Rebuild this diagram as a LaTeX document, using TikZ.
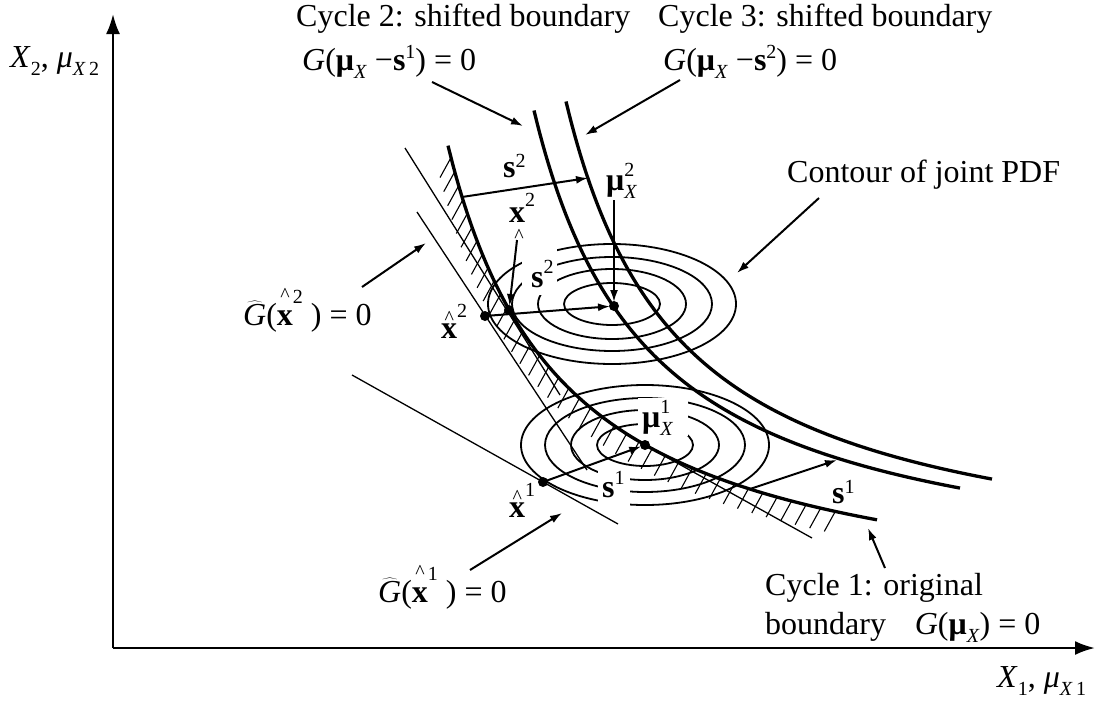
\documentclass[tikz,border=0pt]{standalone}
\usepackage{fontspec}
\setmainfont{Liberation Serif}
\usetikzlibrary{arrows.meta}
\newcommand{\sz}{\fontsize{20}{20}\selectfont}
\newcommand{\sups}[2][13pt]{\raisebox{#1}{\sz #2}}
\newcommand{\subs}[2][-8pt]{\raisebox{#1}{\sz #2}}
\newcommand{\subsup}[2]{\ooalign{\raisebox{-8pt}{\sz #1}\cr\raisebox{14pt}{\sz #2}\cr}}
\newcommand{\hatx}[1][14pt]{\ooalign{\textbf{x}\cr\hidewidth\raisebox{#1}{\fontsize{20}{20}\selectfont\textasciicircum}\hidewidth\cr}}
\newcommand{\Ghat}{$\widehat{\mbox{\textit{G}}}$}
\begin{document}
\begin{tikzpicture}[x=1pt,y=-1pt,font=\fontsize{32}{37}\selectfont,
  thickc/.style={line width=3.3pt},
  thinl/.style={line width=1.3pt},
  ell/.style={line width=1.8pt},
  hatchline/.style={line width=1.1pt},
  ptr/.style={line width=2pt,-{Latex[length=12pt,width=8pt]}},
  axisarrow/.style={line width=2.5pt,-{Latex[length=20pt,width=14pt]}},
  dot/.style={circle,fill,inner sep=0pt,minimum size=10pt},
  lbl/.style={inner sep=0pt,anchor=base west}]
\useasboundingbox (0,0) rectangle (1097,704);

% axes
\coordinate (O) at (113,648);
\coordinate (xend) at (1095,648);
\coordinate (yend) at (113,14);
\draw[axisarrow] (O) -- (xend);
\draw[axisarrow] (O) -- (yend);
\node[lbl] (ylab) at (10,67) {\textit{X}\subs{2}, \textit{μ}\subs{\textit{X}\,2}};
\node[lbl] (xlab) at (997,687) {\textit{X}\subs{1}, \textit{μ}\subs{\textit{X}\,1}};

% contour ellipses
\foreach \a/\b in {48/21,74/35,100/47,124/60}{
  \draw[ell] (612,304) ellipse [x radius=\a pt, y radius=\b pt];
  \draw[ell] (645,445) ellipse [x radius=\a pt, y radius=\b pt];
}
% gaps in the contours around labels
\fill[white] (522,248) rectangle (557,295);
\fill[white] (638,398) rectangle (688,436);
\fill[white] (598,470) rectangle (630,508);

% thin lines
\draw[thinl] (405,148) -- (560,395);
\coordinate (t2a) at (417,212); \coordinate (t2b) at (587,470);
\draw[thinl] (t2a) -- (t2b);
\coordinate (t1a) at (352,375); \coordinate (t1b) at (618,524);
\draw[thinl] (t1a) -- (t1b);
\draw[thinl] (625,434) -- (812,538);

% hatching below the original boundary
\xdef\hx{451}
\foreach \i in {1,...,39}{
  \pgfmathsetmacro\hX{\hx-332}
  \pgfmathsetmacro\hy{621-551.43/(\hX/100)}
  \draw[hatchline] (\hx,\hy) -- ++(-11,20);
  \pgfmathsetmacro\hs{551.43/(\hX/100)/\hX}
  \pgfmathsetmacro\hn{\hx+15/sqrt(1+\hs*\hs)}
  \xdef\hx{\hn}
}

% boundaries
\draw[thickc] plot[domain=448:877,samples=90,smooth] (\x,{621-551.43/((\x-332)/100)});
\draw[thickc,shift={(87,-31)}] plot[domain=447:873,samples=90,smooth] (\x,{621-551.43/((\x-332)/100)});
\draw[thickc,shift={(119,-40)}] plot[domain=447:873,samples=90,smooth] (\x,{621-551.43/((\x-332)/100)});

% points
\node[dot] (mu2) at (614,306) {};
\node[dot] (mu1) at (645,445) {};
\node[dot] (x2) at (509,310) {};
\node[dot] (xh2) at (485,316) {};
\node[dot] (xh1) at (543,482) {};

% shift arrows
\coordinate (s2a) at (462,197); \coordinate (s2b) at (588,178);
\draw[ptr] (s2a) -- (s2b);
\coordinate (s1a) at (750,489); \coordinate (s1b) at (837,460);
\draw[ptr] (s1a) -- (s1b);
\draw[ptr,shorten >=4pt] (xh2.center) -- (mu2.center);
\draw[ptr,shorten >=4pt] (xh1.center) -- (mu1.center);

% labels
\node[lbl] (cyc2a) at (296,27) {Cycle 2: shifted boundary};
\node[lbl] (cyc2b) at (302,70) {\textit{G}(\textbf{μ}\subs{\textit{X}} −\textbf{s}\sups[12pt]{1}) = 0};
\node[lbl] (cyc3a) at (658,27) {Cycle 3: shifted boundary};
\node[lbl] (cyc3b) at (663,70) {\textit{G}(\textbf{μ}\subs{\textit{X}} −\textbf{s}\sups[12pt]{2}) = 0};
\node[lbl] (contour) at (787,182) {Contour of joint PDF};
\node[lbl] (gh2) at (243,325) {\Ghat(\hatx[24pt]\sups[22pt]{2} ) = 0};
\node[lbl] (gh1) at (378,602) {\Ghat(\hatx[24pt]\sups[22pt]{1} ) = 0};
\node[lbl] (cyc1a) at (765,595) {Cycle 1: original};
\node[lbl] (cyc1b) at (765,634) {boundary\hspace{0.9em}\textit{G}(\textbf{μ}\subs{\textit{X}}) = 0};

\node[lbl] (s2top) at (503,177) {\textbf{s}\sups[10pt]{2}};
\node[lbl] (mu2lab) at (606,190) {\textbf{μ}\subsup{\textit{X}}{2}};
\node[lbl] (x2lab) at (509,222) {\textbf{x}\sups[16pt]{2}};
\node[inner sep=0pt] (x2hat) at (519,236) {\fontsize{20}{20}\selectfont\textasciicircum};
\node[lbl] (s2low) at (531,287) {\textbf{s}\sups[14pt]{2}};
\node[lbl] (xh2lab) at (441,338) {\hatx\sups[21pt]{2}};
\node[lbl] (mu1lab) at (642,427) {\textbf{μ}\subsup{\textit{X}}{1}};
\node[lbl] (s1low) at (602,497) {\textbf{s}\sups[13pt]{1}};
\node[lbl] (xh1lab) at (509,517) {\hatx\sups[21pt]{1}};
\node[lbl] (s1right) at (832,503) {\textbf{s}\sups[10pt]{1}};

% pointer arrows
\coordinate (c2s) at (432,82); \coordinate (c2e) at (523,126);
\draw[ptr] (c2s) -- (c2e);
\coordinate (c3s) at (680,80); \coordinate (c3e) at (585,135);
\draw[ptr] (c3s) -- (c3e);
\coordinate (cts) at (819,198); \coordinate (cte) at (737,273);
\draw[ptr] (cts) -- (cte);
\coordinate (g2s) at (362,287); \coordinate (g2e) at (426,243);
\draw[ptr] (g2s) -- (g2e);
\coordinate (g1s) at (470,570); \coordinate (g1e) at (562,513);
\draw[ptr] (g1s) -- (g1e);
\coordinate (c1s) at (885,568); \coordinate (c1e) at (868,528);
\draw[ptr] (c1s) -- (c1e);
\coordinate (x2s) at (517,240);
\draw[ptr,shorten >=4pt] (x2s) -- (x2.center);
\coordinate (m2s) at (614,200);
\draw[ptr,shorten >=4pt] (m2s) -- (mu2.center);
\end{tikzpicture}
\end{document}
